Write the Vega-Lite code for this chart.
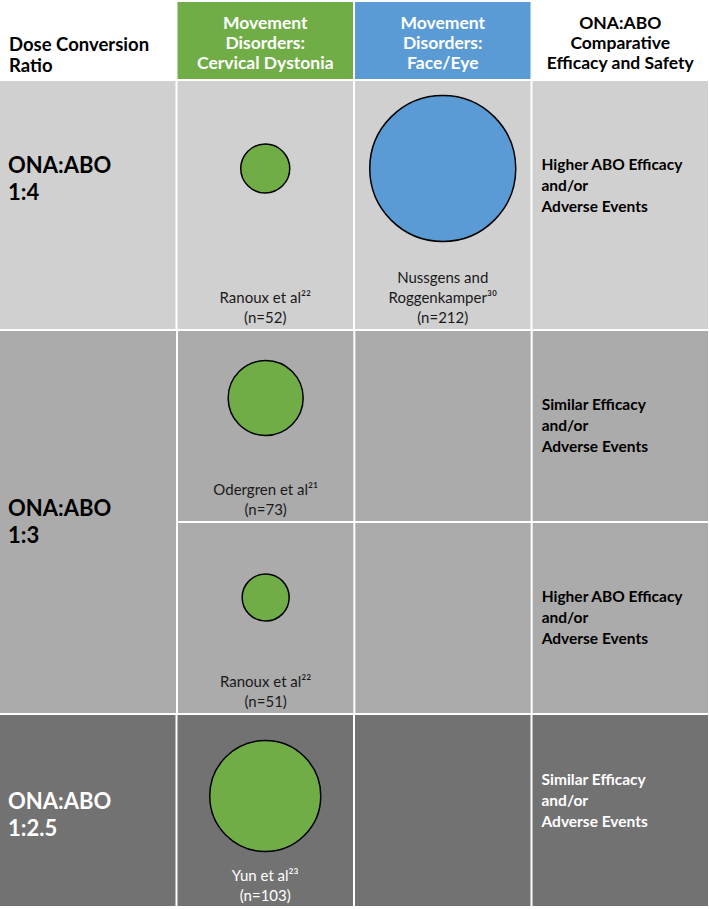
{
  "$schema": "https://vega.github.io/schema/vega-lite/v6.json",
  "padding": {"top": 2, "left": 0, "right": 0, "bottom": 0},
  "autosize": {"type": "pad"},
  "background": "#ffffff",
  "spacing": 2,
  "config": {"view": {"stroke": null}, "font": "Lato", "concat": {"spacing": 2}},
  "datasets": {
    "cells": [
      {"row": "1", "col": "dose"}, {"row": "1", "col": "cd"}, {"row": "1", "col": "fe"}, {"row": "1", "col": "eff"},
      {"row": "2", "col": "dose"},
      {"row": "2a", "col": "cd"}, {"row": "2a", "col": "fe"}, {"row": "2a", "col": "eff"},
      {"row": "2b", "col": "cd"}, {"row": "2b", "col": "fe"}, {"row": "2b", "col": "eff"},
      {"row": "3", "col": "dose"}, {"row": "3", "col": "cd"}, {"row": "3", "col": "fe"}, {"row": "3", "col": "eff"}
    ],
    "headers": [
      {"col": "dose", "text": "Dose Conversion\nRatio"},
      {"col": "cd", "text": "Movement\nDisorders:\nCervical Dystonia"},
      {"col": "fe", "text": "Movement\nDisorders:\nFace/Eye"},
      {"col": "eff", "text": "ONA:ABO\nComparative\nEfficacy and Safety"}
    ],
    "ratios": [
      {"row": "1", "col": "dose", "ratio": "ONA:ABO\n1:4"},
      {"row": "2", "col": "dose", "ratio": "ONA:ABO\n1:3"},
      {"row": "3", "col": "dose", "ratio": "ONA:ABO\n1:2.5"}
    ],
    "studies": [
      {"row": "1", "col": "cd", "study": "Ranoux et al²²\n(n=52)", "n": 52},
      {"row": "1", "col": "fe", "study": "Nussgens and\nRoggenkamper³⁰\n(n=212)", "n": 212},
      {"row": "2a", "col": "cd", "study": "Odergren et al²¹\n(n=73)", "n": 73},
      {"row": "2b", "col": "cd", "study": "Ranoux et al²²\n(n=51)", "n": 51},
      {"row": "3", "col": "cd", "study": "Yun et al²³\n(n=103)", "n": 103}
    ],
    "outcomes": [
      {"row": "1", "col": "eff", "outcome": "Higher ABO Efficacy\nand/or\nAdverse Events"},
      {"row": "2a", "col": "eff", "outcome": "Similar Efficacy\nand/or\nAdverse Events"},
      {"row": "2b", "col": "eff", "outcome": "Higher ABO Efficacy\nand/or\nAdverse Events"},
      {"row": "3", "col": "eff", "outcome": "Similar Efficacy\nand/or\nAdverse Events"}
    ]
  },
  "resolve": {"scale": {"x": "independent", "fill": "independent", "color": "independent", "size": "independent"}},
  "vconcat": [
    {
      "width": 708, "height": 77,
      "data": {"name": "headers"},
      "layer": [
        {
          "mark": {"type": "rect"},
          "encoding": {
            "x": {"field": "col", "type": "nominal", "axis": null, "scale": {"type": "band", "domain": ["dose", "cd", "fe", "eff"], "paddingInner": 0.011268, "paddingOuter": 0}},
            "fill": {"field": "col", "type": "nominal", "legend": null, "scale": {"domain": ["dose", "cd", "fe", "eff"], "range": ["#ffffff", "#70ad47", "#5b9bd5", "#ffffff"]}}
          }
        },
        {
          "transform": [{"filter": "datum.col != 'dose'"}],
          "mark": {"type": "text", "lineBreak": "\n", "font": "Lato", "fontWeight": "bold", "fontSize": 17.5, "lineHeight": 20, "baseline": "top", "align": "center", "dy": -25.2},
          "encoding": {
            "x": {"field": "col", "type": "nominal", "axis": null, "scale": {"type": "band", "domain": ["dose", "cd", "fe", "eff"], "paddingInner": 0.011268, "paddingOuter": 0}},
            "text": {"field": "text"},
            "color": {"field": "col", "type": "nominal", "legend": null, "scale": {"domain": ["cd", "fe", "eff"], "range": ["#ffffff", "#ffffff", "#000000"]}}
          }
        },
        {
          "transform": [{"filter": "datum.col == 'dose'"}],
          "mark": {"type": "text", "lineBreak": "\n", "font": "Lato", "fontWeight": "bold", "fontSize": 18.5, "lineHeight": 21, "baseline": "top", "align": "left", "dx": 9, "dy": -4.6, "color": "#000000"},
          "encoding": {
            "x": {"field": "col", "type": "nominal", "axis": null, "bandPosition": 0, "scale": {"type": "band", "domain": ["dose", "cd", "fe", "eff"], "paddingInner": 0.011268, "paddingOuter": 0}},
            "text": {"field": "text"}
          }
        }
      ],
      "resolve": {"scale": {"fill": "independent", "color": "independent"}}
    },
    {
      "width": 708, "height": 248,
      "layer": [
        {
          "data": {"name": "cells"},
          "transform": [{"filter": "datum.row == '1'"}],
          "mark": {"type": "rect", "color": "#d0d0d0"},
          "encoding": {
            "x": {"field": "col", "type": "nominal", "axis": null, "scale": {"type": "band", "domain": ["dose", "cd", "fe", "eff"], "paddingInner": 0.011268, "paddingOuter": 0}}
          }
        },
        {
          "data": {"name": "studies"},
          "transform": [{"filter": "datum.row == '1'"}],
          "mark": {"type": "point", "shape": "circle", "filled": true, "opacity": 1, "stroke": "#000000", "strokeWidth": 1.5, "yOffset": -36.5},
          "encoding": {
            "x": {"field": "col", "type": "nominal", "axis": null, "scale": {"type": "band", "domain": ["dose", "cd", "fe", "eff"], "paddingInner": 0.011268, "paddingOuter": 0}},
            "size": {"field": "n", "type": "quantitative", "legend": null, "scale": {"type": "linear", "domain": [51, 52, 73, 103, 212], "range": [2209, 2401, 5625, 12321, 21316]}},
            "fill": {"field": "col", "type": "nominal", "legend": null, "scale": {"domain": ["cd", "fe"], "range": ["#70ad47", "#5b9bd5"]}}
          }
        },
        {
          "data": {"name": "studies"},
          "transform": [{"filter": "datum.row == '1' && datum.col == 'cd'"}],
          "mark": {"type": "text", "lineBreak": "\n", "font": "Lato", "fontSize": 15, "lineHeight": 20, "baseline": "top", "align": "center", "dy": 86.4, "color": "#1a1a1a"},
          "encoding": {
            "x": {"field": "col", "type": "nominal", "axis": null, "scale": {"type": "band", "domain": ["dose", "cd", "fe", "eff"], "paddingInner": 0.011268, "paddingOuter": 0}},
            "text": {"field": "study"}
          }
        },
        {
          "data": {"name": "studies"},
          "transform": [{"filter": "datum.row == '1' && datum.col == 'fe'"}],
          "mark": {"type": "text", "lineBreak": "\n", "font": "Lato", "fontSize": 15, "lineHeight": 20, "baseline": "top", "align": "center", "dy": 66.4, "color": "#1a1a1a"},
          "encoding": {
            "x": {"field": "col", "type": "nominal", "axis": null, "scale": {"type": "band", "domain": ["dose", "cd", "fe", "eff"], "paddingInner": 0.011268, "paddingOuter": 0}},
            "text": {"field": "study"}
          }
        },
        {
          "data": {"name": "ratios"},
          "transform": [{"filter": "datum.row == '1'"}],
          "mark": {"type": "text", "lineBreak": "\n", "font": "Lato", "fontWeight": "bold", "fontSize": 22, "lineHeight": 27, "baseline": "top", "align": "left", "dx": 8, "dy": -48.7, "color": "#000000"},
          "encoding": {
            "x": {"field": "col", "type": "nominal", "axis": null, "bandPosition": 0, "scale": {"type": "band", "domain": ["dose", "cd", "fe", "eff"], "paddingInner": 0.011268, "paddingOuter": 0}},
            "text": {"field": "ratio"}
          }
        },
        {
          "data": {"name": "outcomes"},
          "transform": [{"filter": "datum.row == '1'"}],
          "mark": {"type": "text", "lineBreak": "\n", "font": "Lato", "fontWeight": "bold", "fontSize": 15.5, "lineHeight": 21, "baseline": "top", "align": "left", "dx": 9, "dy": -46.8, "color": "#000000"},
          "encoding": {
            "x": {"field": "col", "type": "nominal", "axis": null, "bandPosition": 0, "scale": {"type": "band", "domain": ["dose", "cd", "fe", "eff"], "paddingInner": 0.011268, "paddingOuter": 0}},
            "text": {"field": "outcome"}
          }
        }
      ]
    },
    {
      "spacing": 2,
      "resolve": {"scale": {"x": "independent", "fill": "independent", "color": "independent", "size": "independent"}},
      "hconcat": [
        {
          "width": 176, "height": 382,
          "layer": [
            {
              "data": {"name": "cells"},
              "transform": [{"filter": "datum.row == '2'"}],
              "mark": {"type": "rect", "color": "#ababab"},
              "encoding": {
                "x": {"field": "col", "type": "nominal", "axis": null, "scale": {"type": "band", "domain": ["dose"], "paddingInner": 0, "paddingOuter": 0}}
              }
            },
            {
              "data": {"name": "ratios"},
              "transform": [{"filter": "datum.row == '2'"}],
              "mark": {"type": "text", "lineBreak": "\n", "font": "Lato", "fontWeight": "bold", "fontSize": 22, "lineHeight": 27, "baseline": "top", "align": "left", "dx": 8, "dy": -22.7, "color": "#000000"},
              "encoding": {
                "x": {"field": "col", "type": "nominal", "axis": null, "bandPosition": 0, "scale": {"type": "band", "domain": ["dose"], "paddingInner": 0, "paddingOuter": 0}},
                "text": {"field": "ratio"}
              }
            }
          ]
        },
        {
          "spacing": 2,
          "resolve": {"scale": {"x": "independent", "fill": "independent", "color": "independent", "size": "independent"}},
          "vconcat": [
            {
              "width": 530, "height": 190,
              "layer": [
                {
                  "data": {"name": "cells"},
                  "transform": [{"filter": "datum.row == '2a'"}],
                  "mark": {"type": "rect", "color": "#ababab"},
                  "encoding": {
                    "x": {"field": "col", "type": "nominal", "axis": null, "scale": {"type": "band", "domain": ["cd", "fe", "eff"], "paddingInner": 0.011278, "paddingOuter": 0}}
                  }
                },
                {
                  "data": {"name": "studies"},
                  "transform": [{"filter": "datum.row == '2a'"}],
                  "mark": {"type": "point", "shape": "circle", "filled": true, "opacity": 1, "stroke": "#000000", "strokeWidth": 1.5, "yOffset": -28},
                  "encoding": {
                    "x": {"field": "col", "type": "nominal", "axis": null, "scale": {"type": "band", "domain": ["cd", "fe", "eff"], "paddingInner": 0.011278, "paddingOuter": 0}},
                    "size": {"field": "n", "type": "quantitative", "legend": null, "scale": {"type": "linear", "domain": [51, 52, 73, 103, 212], "range": [2209, 2401, 5625, 12321, 21316]}},
                    "fill": {"field": "col", "type": "nominal", "legend": null, "scale": {"domain": ["cd", "fe"], "range": ["#70ad47", "#5b9bd5"]}}
                  }
                },
                {
                  "data": {"name": "studies"},
                  "transform": [{"filter": "datum.row == '2a'"}],
                  "mark": {"type": "text", "lineBreak": "\n", "font": "Lato", "fontSize": 15, "lineHeight": 20, "baseline": "top", "align": "center", "dy": 57.4, "color": "#1a1a1a"},
                  "encoding": {
                    "x": {"field": "col", "type": "nominal", "axis": null, "scale": {"type": "band", "domain": ["cd", "fe", "eff"], "paddingInner": 0.011278, "paddingOuter": 0}},
                    "text": {"field": "study"}
                  }
                },
                {
                  "data": {"name": "outcomes"},
                  "transform": [{"filter": "datum.row == '2a'"}],
                  "mark": {"type": "text", "lineBreak": "\n", "font": "Lato", "fontWeight": "bold", "fontSize": 15.5, "lineHeight": 21, "baseline": "top", "align": "left", "dx": 9, "dy": -27.8, "color": "#000000"},
                  "encoding": {
                    "x": {"field": "col", "type": "nominal", "axis": null, "bandPosition": 0, "scale": {"type": "band", "domain": ["cd", "fe", "eff"], "paddingInner": 0.011278, "paddingOuter": 0}},
                    "text": {"field": "outcome"}
                  }
                }
              ]
            },
            {
              "width": 530, "height": 190,
              "layer": [
                {
                  "data": {"name": "cells"},
                  "transform": [{"filter": "datum.row == '2b'"}],
                  "mark": {"type": "rect", "color": "#ababab"},
                  "encoding": {
                    "x": {"field": "col", "type": "nominal", "axis": null, "scale": {"type": "band", "domain": ["cd", "fe", "eff"], "paddingInner": 0.011278, "paddingOuter": 0}}
                  }
                },
                {
                  "data": {"name": "studies"},
                  "transform": [{"filter": "datum.row == '2b'"}],
                  "mark": {"type": "point", "shape": "circle", "filled": true, "opacity": 1, "stroke": "#000000", "strokeWidth": 1.5, "yOffset": -20.5},
                  "encoding": {
                    "x": {"field": "col", "type": "nominal", "axis": null, "scale": {"type": "band", "domain": ["cd", "fe", "eff"], "paddingInner": 0.011278, "paddingOuter": 0}},
                    "size": {"field": "n", "type": "quantitative", "legend": null, "scale": {"type": "linear", "domain": [51, 52, 73, 103, 212], "range": [2209, 2401, 5625, 12321, 21316]}},
                    "fill": {"field": "col", "type": "nominal", "legend": null, "scale": {"domain": ["cd", "fe"], "range": ["#70ad47", "#5b9bd5"]}}
                  }
                },
                {
                  "data": {"name": "studies"},
                  "transform": [{"filter": "datum.row == '2b'"}],
                  "mark": {"type": "text", "lineBreak": "\n", "font": "Lato", "fontSize": 15, "lineHeight": 20, "baseline": "top", "align": "center", "dy": 57.4, "color": "#1a1a1a"},
                  "encoding": {
                    "x": {"field": "col", "type": "nominal", "axis": null, "scale": {"type": "band", "domain": ["cd", "fe", "eff"], "paddingInner": 0.011278, "paddingOuter": 0}},
                    "text": {"field": "study"}
                  }
                },
                {
                  "data": {"name": "outcomes"},
                  "transform": [{"filter": "datum.row == '2b'"}],
                  "mark": {"type": "text", "lineBreak": "\n", "font": "Lato", "fontWeight": "bold", "fontSize": 15.5, "lineHeight": 21, "baseline": "top", "align": "left", "dx": 9, "dy": -27.8, "color": "#000000"},
                  "encoding": {
                    "x": {"field": "col", "type": "nominal", "axis": null, "bandPosition": 0, "scale": {"type": "band", "domain": ["cd", "fe", "eff"], "paddingInner": 0.011278, "paddingOuter": 0}},
                    "text": {"field": "outcome"}
                  }
                }
              ]
            }
          ]
        }
      ]
    },
    {
      "width": 708, "height": 191,
      "layer": [
        {
          "data": {"name": "cells"},
          "transform": [{"filter": "datum.row == '3'"}],
          "mark": {"type": "rect", "color": "#727272"},
          "encoding": {
            "x": {"field": "col", "type": "nominal", "axis": null, "scale": {"type": "band", "domain": ["dose", "cd", "fe", "eff"], "paddingInner": 0.011268, "paddingOuter": 0}}
          }
        },
        {
          "data": {"name": "studies"},
          "transform": [{"filter": "datum.row == '3'"}],
          "mark": {"type": "point", "shape": "circle", "filled": true, "opacity": 1, "stroke": "#000000", "strokeWidth": 1.5, "yOffset": -14.5},
          "encoding": {
            "x": {"field": "col", "type": "nominal", "axis": null, "scale": {"type": "band", "domain": ["dose", "cd", "fe", "eff"], "paddingInner": 0.011268, "paddingOuter": 0}},
            "size": {"field": "n", "type": "quantitative", "legend": null, "scale": {"type": "linear", "domain": [51, 52, 73, 103, 212], "range": [2209, 2401, 5625, 12321, 21316]}},
            "fill": {"field": "col", "type": "nominal", "legend": null, "scale": {"domain": ["cd", "fe"], "range": ["#70ad47", "#5b9bd5"]}}
          }
        },
        {
          "data": {"name": "studies"},
          "transform": [{"filter": "datum.row == '3'"}],
          "mark": {"type": "text", "lineBreak": "\n", "font": "Lato", "fontSize": 15, "lineHeight": 20, "baseline": "top", "align": "center", "dy": 58.9, "color": "#ffffff"},
          "encoding": {
            "x": {"field": "col", "type": "nominal", "axis": null, "scale": {"type": "band", "domain": ["dose", "cd", "fe", "eff"], "paddingInner": 0.011268, "paddingOuter": 0}},
            "text": {"field": "study"}
          }
        },
        {
          "data": {"name": "ratios"},
          "transform": [{"filter": "datum.row == '3'"}],
          "mark": {"type": "text", "lineBreak": "\n", "font": "Lato", "fontWeight": "bold", "fontSize": 22, "lineHeight": 27, "baseline": "top", "align": "left", "dx": 8, "dy": -18.2, "color": "#ffffff"},
          "encoding": {
            "x": {"field": "col", "type": "nominal", "axis": null, "bandPosition": 0, "scale": {"type": "band", "domain": ["dose", "cd", "fe", "eff"], "paddingInner": 0.011268, "paddingOuter": 0}},
            "text": {"field": "ratio"}
          }
        },
        {
          "data": {"name": "outcomes"},
          "transform": [{"filter": "datum.row == '3'"}],
          "mark": {"type": "text", "lineBreak": "\n", "font": "Lato", "fontWeight": "bold", "fontSize": 15.5, "lineHeight": 21, "baseline": "top", "align": "left", "dx": 9, "dy": -37.3, "color": "#ffffff"},
          "encoding": {
            "x": {"field": "col", "type": "nominal", "axis": null, "bandPosition": 0, "scale": {"type": "band", "domain": ["dose", "cd", "fe", "eff"], "paddingInner": 0.011268, "paddingOuter": 0}},
            "text": {"field": "outcome"}
          }
        }
      ]
    }
  ]
}
